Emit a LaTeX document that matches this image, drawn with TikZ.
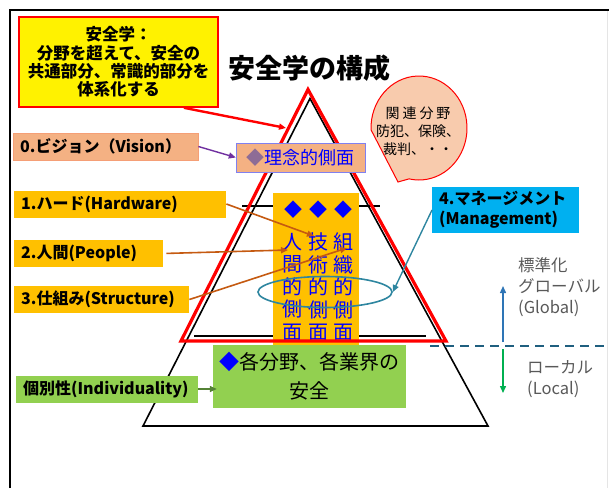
\documentclass[tikz,border=0pt]{standalone}
\usepackage{fontspec}
\setmainfont{Noto Sans CJK JP}
\usepackage{tikz}
\usetikzlibrary{arrows.meta,shapes.geometric}
\definecolor{salmon}{HTML}{F4B183}
\definecolor{gold}{HTML}{FFC000}
\definecolor{leaf}{HTML}{92D050}
\definecolor{sky}{HTML}{00B0F0}
\definecolor{rust}{HTML}{C55A11}
\definecolor{ring}{HTML}{2E86A0}
\definecolor{deepteal}{HTML}{1F5F7F}
\definecolor{peach}{HTML}{F8CBAD}
\definecolor{grape}{HTML}{7030A0}
\definecolor{moss}{HTML}{548235}
\definecolor{mauve}{HTML}{8E6C96}
\definecolor{violetline}{HTML}{8080F0}
\definecolor{upblue}{HTML}{2E75B6}
\definecolor{downgreen}{HTML}{00B050}
\definecolor{note}{HTML}{595959}
\newcommand{\fsz}[2]{\fontsize{#1}{#2}\selectfont}

\tikzset{
  lbox/.style={anchor=west, text width=#1, align=left, inner xsep=7pt, inner ysep=0pt, minimum height=27pt, font=\fsz{16}{20}\bfseries},
  facet/.style={align=center, text=blue, inner sep=0pt, font=\fsz{20}{22.5}},
  linkarrow/.style={-{Triangle[length=7pt,width=6pt]}}
}

\begin{document}
\begin{tikzpicture}[x=1pt,y=-1pt]
	\useasboundingbox (0,0) rectangle (609,488);
	%frame of the slide
	\draw[line width=2.5pt] (10,488) -- (10,10) -- (609,10);
	\draw[gray!20, line width=.8pt] (607,11) -- (607,488);
	%% black pyramid with its two floors
	\draw[line width=1.6pt, line join=miter] (310,98.5) -- (143,426) -- (488,426) -- cycle;
	\draw[line width=1.4pt] (242,206) -- (380,206);
	\draw[line width=1.4pt] (194,336) -- (426,336);
	%% the three aspects, written top to bottom
	\node[fill=gold, minimum width=86pt, minimum height=152pt] (aspects) at (316,269){};
	\foreach \x in {293,318,343}{
		\node[text=blue, inner sep=0pt, font=\fsz{18}{18}] (d\x) at (\x,210){◆};
		}
	\node[facet] (human) at (292,287){人\\間\\的\\側\\面};
	\node[facet] (tech) at (318,287){技\\術\\的\\側\\面};
	\node[facet] (org) at (343,287){組\\織\\的\\側\\面};
	%% red pyramid
	\draw[red, line width=3.2pt, line join=miter] (308,89.5) -- (181,341) -- (446,341) -- cycle;
	\node[ellipse, draw=ring, line width=1.6pt, minimum width=134pt, minimum height=31pt] (mgmtring) at (325,292){};
	%% global / local axis
	\draw[deepteal, line width=1.6pt, dash pattern=on 9pt off 6pt] (430,346) -- (609,346);
	\coordinate (axis) at (503,345);
	\coordinate (globaltip) at (503,286);
	\coordinate (localtip) at (503,393);
	\draw[linkarrow, upblue, line width=1.4pt, shorten <=3pt] (axis) -- (globaltip);
	\draw[linkarrow, downgreen, line width=1.4pt, shorten <=4pt] (axis) -- (localtip);
	\node[anchor=west, align=left, text=note, inner sep=0pt, font=\fsz{16.5}{21}] (global) at (518,287){標準化\\グローバル\\(Global)};
	\node[anchor=west, align=left, text=note, inner sep=0pt, font=\fsz{16.5}{21}] (local) at (527,379){ローカル\\(Local)};
	%% headline and boxes
	\node[font=\fsz{27}{30}\bfseries] (title) at (309,68){安全学の構成};
	\node[draw=red, line width=1.6pt, fill=yellow, minimum width=199pt, minimum height=90pt, inner sep=0pt, align=center, font=\fsz{16.5}{18.3}\bfseries] (goal) at (118.5,62){安全学：\\分野を超えて、安全の\\共通部分、常識的部分を\\体系化する};
	\coordinate (redtip) at (286,128);
	\draw[linkarrow, red, line width=2.4pt] (goal.-35) -- (redtip);
	%% related fields bubble
	\coordinate (relc) at (419,128);
	\filldraw[draw=red, fill=peach, line width=1pt] (398,182) -- ([shift={(-182:48 and 52)}]relc) arc[start angle=-182, end angle=102, x radius=48, y radius=52] -- cycle;
	\node[align=center, inner sep=0pt, font=\fsz{14}{18}] (related) at (418,131){関\kern3pt 連\kern3pt 分\kern3pt 野\\防犯、保険、\\裁判、・・};
	\node[draw=violetline, fill=salmon, minimum width=129pt, minimum height=29pt, inner sep=0pt, font=\fsz{18}{20}] (ideal) at (300.5,157.5){\textcolor{mauve}{◆}\textcolor{blue}{理念的側面}};
	\node[lbox=171pt, fill=salmon, draw=salmon!90!red] (vision) at (13,146.5){0.ビジョン（Vision）};
	\node[lbox=198pt, fill=gold] (hard) at (14,204){1.ハード(Hardware)};
	\node[lbox=135pt, fill=gold] (people) at (14,253.5){2.人間(People)};
	\node[lbox=161pt, fill=gold] (struct) at (14,299.5){3.仕組み(Structure)};
	\node[lbox=133pt, fill=sky, minimum height=46pt] (mgmt) at (432,210){4.マネージメント\\(Management)};
	\node[fill=leaf, minimum width=193pt, minimum height=63pt, inner sep=0pt, align=center, font=\fsz{20}{29}] (sector) at (309.5,376.5){\textcolor{blue}{◆}各分野、各業界の\\安全};
	\node[lbox=168pt, fill=leaf] (indiv) at (16,389){個別性(Individuality)};
	%% connectors
	\coordinate (hwtip) at (314,236);
	\coordinate (pptip) at (288,250);
	\coordinate (sttip) at (347,248);
	\begin{scope}[linkarrow, rust, line width=1.6pt]
	\draw (hard.east) -- (hwtip);
	\draw[shorten <=3pt] (people.east) -- (pptip);
	\draw (struct.east) -- (sttip);
	\end{scope}
	\draw[linkarrow, grape, line width=1.4pt] (vision.east) -- (ideal.west);
	\draw[linkarrow, ring, line width=1.4pt] (mgmt.west) -- (mgmtring.east);
	\draw[linkarrow, moss, line width=1.4pt] (indiv.east) -- ([xshift=4pt]indiv.east -| sector.west);
\end{tikzpicture}
\end{document}
